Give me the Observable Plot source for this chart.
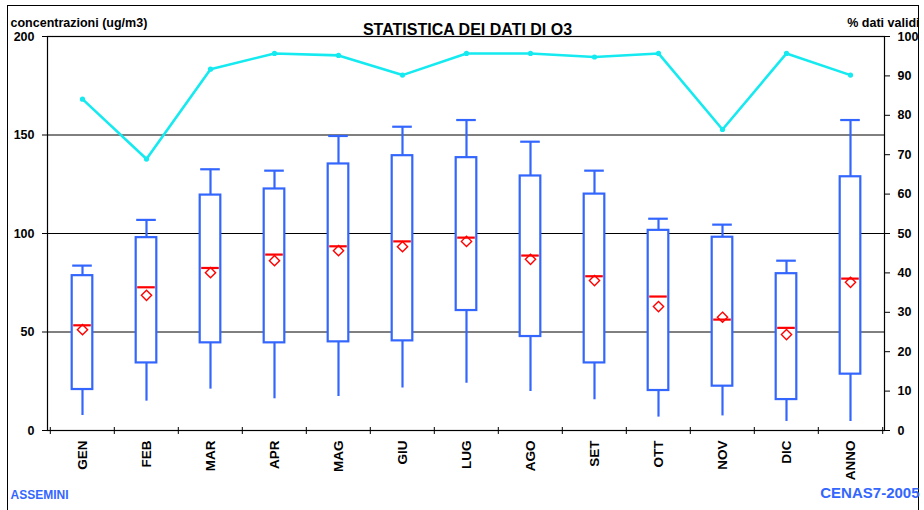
<!DOCTYPE html>
<html>
<head>
<meta charset="utf-8">
<script src="https://cdn.jsdelivr.net/npm/d3@7"></script>
<script src="https://cdn.jsdelivr.net/npm/@observablehq/plot@0.6"></script>
<style>
  html, body { margin: 0; padding: 0; background: #fff; }
  #wrap { position: relative; width: 924px; height: 510px; overflow: hidden; background: #fff; }
  #border { position: absolute; left: 7px; top: 5px; width: 912px; height: 520px; border: 1px solid #000; box-sizing: border-box; }
  #chart { position: absolute; left: 0; top: 0; }
</style>
</head>
<body>
<div id="wrap"><div id="border"></div><div id="chart"></div></div>
<script>
const categories = ["GEN","FEB","MAR","APR","MAG","GIU","LUG","AGO","SET","OTT","NOV","DIC","ANNO"];
const minValues    = [7.6, 14.9, 21.0, 16.1, 17.2, 21.6, 24.0, 19.8, 15.6, 6.8, 7.4, 4.6, 4.6];
const q1Values     = [20.8, 34.3, 44.5, 44.5, 45.0, 45.5, 60.9, 47.7, 34.3, 20.3, 22.5, 15.7, 28.6];
const medianValues = [53.4, 72.7, 82.5, 89.3, 93.5, 96.0, 97.9, 88.8, 78.3, 68.0, 56.3, 52.1, 77.1];
const meanValues   = [51.2, 68.6, 80.1, 86.2, 91.3, 93.3, 96.0, 86.9, 76.1, 62.9, 57.5, 48.7, 75.2];
const q3Values     = [78.6, 97.9, 119.5, 122.6, 135.3, 139.5, 138.5, 129.2, 120.0, 101.6, 98.1, 79.6, 128.8];
const maxValues    = [83.7, 106.9, 132.6, 131.9, 149.5, 154.2, 157.6, 146.6, 131.9, 107.5, 104.5, 86.2, 157.6];
const validPct     = [84.1, 68.9, 91.7, 95.7, 95.2, 90.2, 95.7, 95.7, 94.8, 95.7, 76.4, 95.7, 90.2];
const leftTicks  = [0, 50, 100, 150, 200];
const rightTicks = [0, 10, 20, 30, 40, 50, 60, 70, 80, 90, 100];

const rows = categories.map((c, i) => ({
  cat: c, min: minValues[i], q1: q1Values[i], median: medianValues[i],
  mean: meanValues[i], q3: q3Values[i], max: maxValues[i], pct: validPct[i]
}));

const W = 924, H = 510, ML = 47, MR = 40, MT = 36, MB = 80;
const bw = (W - ML - MR) / categories.length;
const blue = "#3366ff", cyan = "#14eaf0", red = "#ff0000";
// right axis (0-100 %) shares the pixel range of the left axis (0-200)
const pctToY = p => p * 2;

const chart = Plot.plot({
  width: W, height: H,
  marginLeft: ML, marginRight: MR, marginTop: MT, marginBottom: MB,
  style: { fontFamily: "'Liberation Sans', Arial, sans-serif", fontWeight: "bold", fontSize: "13px", background: "transparent", color: "#000" },
  x: { type: "band", domain: categories, padding: 0 },
  y: { domain: [0, 200] },
  marks: [
    Plot.ruleY([50, 100, 150], { stroke: "#000", strokeWidth: 1 }),
    Plot.frame({ stroke: "#000", strokeWidth: 1.2 }),
    // whiskers
    Plot.ruleX(rows, { x: "cat", y1: "min", y2: "max", stroke: blue, strokeWidth: 2.2 }),
    Plot.tickY(rows, { x: "cat", y: "max", stroke: blue, strokeWidth: 2.2, insetLeft: (bw - 20) / 2, insetRight: (bw - 20) / 2 }),
    // boxes
    Plot.barY(rows, { x: "cat", y1: "q1", y2: "q3", fill: "#fff", stroke: blue, strokeWidth: 2.2, insetLeft: (bw - 21) / 2, insetRight: (bw - 21) / 2 }),
    // mean
    Plot.dot(rows, { x: "cat", y: "mean", symbol: "diamond2", r: 4.6, stroke: red, fill: "#fff", strokeWidth: 1.4 }),
    // median
    Plot.tickY(rows, { x: "cat", y: "median", stroke: red, strokeWidth: 2.2, insetLeft: (bw - 18) / 2, insetRight: (bw - 18) / 2 }),
    // % dati validi
    Plot.line(rows, { x: "cat", y: d => pctToY(d.pct), stroke: cyan, strokeWidth: 2.6 }),
    Plot.dot(rows, { x: "cat", y: d => pctToY(d.pct), r: 2.6, fill: cyan }),
    // category separators on x axis
    Plot.ruleX(categories, { x: d => d, dx: -bw / 2, y1: 0, y2: 0, insetTop: -3, insetBottom: -4, stroke: "#000" }),
    Plot.ruleX([categories[categories.length - 1]], { x: d => d, dx: bw / 2, y1: 0, y2: 0, insetTop: -3, insetBottom: -4, stroke: "#000" }),
    // axes
    Plot.axisX({ tickSize: 0, tickPadding: 10, tickRotate: -90, label: null, fontSize: 13.5, fontWeight: "bold" }),
    Plot.axisY(leftTicks, { anchor: "left", tickSize: 5, tickPadding: 8, label: null, fontSize: 12.5, fontWeight: "bold" }),
    Plot.axisY(rightTicks.map(pctToY), { anchor: "right", tickSize: 5, tickPadding: 8, label: null, tickFormat: d => d / 2, fontSize: 12.5, fontWeight: "bold" }),
    // titles
    Plot.text(["STATISTICA DEI DATI DI O3"], { frameAnchor: "top", dx: 1.5, dy: -13, fontSize: 16, fontWeight: "bold" }),
    Plot.text(["concentrazioni (ug/m3)"], { frameAnchor: "top-left", textAnchor: "start", dx: -37, dy: -18.5, fontSize: 12.5, fontWeight: "bold" }),
    Plot.text(["% dati validi"], { frameAnchor: "top-right", textAnchor: "end", dx: 35, dy: -18.5, fontSize: 12.5, fontWeight: "bold" }),
    Plot.text(["ASSEMINI"], { frameAnchor: "bottom-left", textAnchor: "start", dx: -37, dy: 68, fontSize: 12, fontWeight: "bold", fill: blue }),
    Plot.text(["CENAS7-2005"], { frameAnchor: "bottom-right", textAnchor: "end", dx: 35, dy: 67, fontSize: 15, fontWeight: "bold", fill: blue })
  ]
});
document.getElementById("chart").appendChild(chart);
</script>
</body>
</html>
